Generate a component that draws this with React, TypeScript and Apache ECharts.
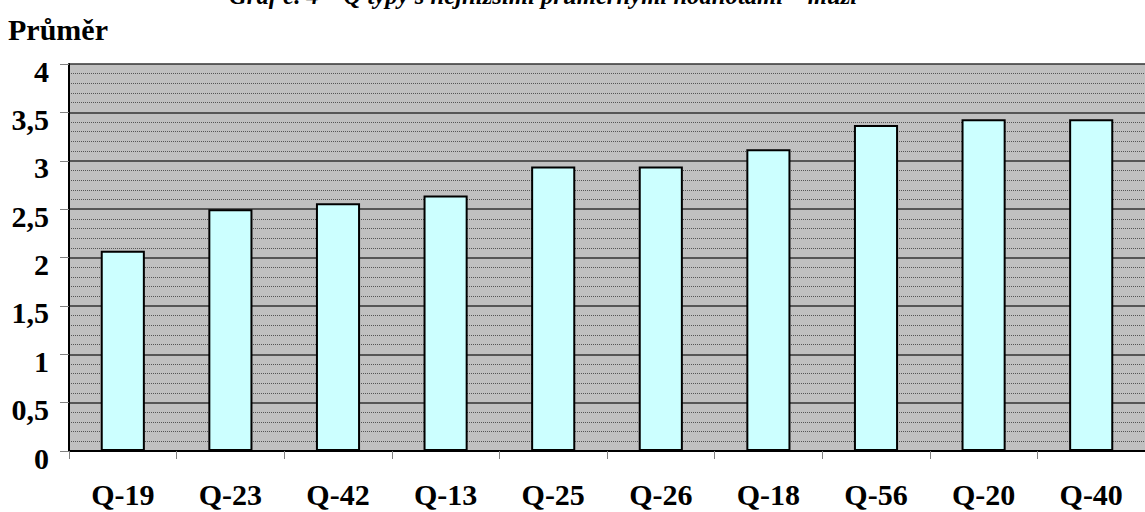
import React, { useEffect, useRef } from "react";
import * as echarts from "echarts";

const categories = ["Q-19", "Q-23", "Q-42", "Q-13", "Q-25", "Q-26", "Q-18", "Q-56", "Q-20", "Q-40"];
const averages = [2.07, 2.5, 2.56, 2.64, 2.94, 2.94, 3.12, 3.37, 3.43, 3.43];
const titleText = "Graf č. 4 – Q typy s nejnižšími průměrnými hodnotami – muži";
const axisName = "Průměr";

const FONT = "Liberation Serif";

export default function App() {
  const ref = useRef<HTMLDivElement>(null);

  useEffect(() => {
    if (!ref.current) return;
    const chart = echarts.init(ref.current, undefined, { renderer: "svg" });
    chart.setOption({
      animation: false,
      backgroundColor: "#ffffff",
      graphic: [
        {
          type: "text",
          left: 229,
          top: -17,
          style: {
            text: titleText,
            fontFamily: FONT,
            fontStyle: "italic",
            fontWeight: "bold",
            fontSize: 24.7,
            fill: "#000",
          },
        },
        {
          type: "text",
          left: 8,
          top: 14,
          style: {
            text: axisName,
            fontFamily: FONT,
            fontWeight: "bold",
            fontSize: 30,
            fill: "#000",
          },
        },
      ],
      grid: {
        left: 69,
        top: 64,
        right: -4,
        bottom: 61,
        show: true,
        backgroundColor: "#C0C0C0",
        borderWidth: 0,
      },
      xAxis: {
        type: "category",
        data: categories,
        boundaryGap: true,
        axisLine: { lineStyle: { color: "#000", width: 2 } },
        axisTick: { show: true, length: 8, lineStyle: { color: "#808080", width: 1 } },
        axisLabel: {
          margin: 28,
          color: "#000",
          fontFamily: FONT,
          fontWeight: "bold",
          fontSize: 30,
        },
      },
      yAxis: {
        type: "value",
        min: 0,
        max: 4,
        interval: 0.5,
        axisLine: { show: true, lineStyle: { color: "#000", width: 2 } },
        axisTick: { show: true, length: 9, lineStyle: { color: "#808080", width: 1 } },
        axisLabel: {
          margin: 20,
          color: "#000",
          fontFamily: FONT,
          fontWeight: "bold",
          fontSize: 30,
          verticalAlign: "top",
          lineHeight: 14,
          formatter: (v: number) => String(v).replace(".", ","),
        },
        splitLine: { show: true, lineStyle: { color: "#333", width: 1.5 } },
        minorTick: { show: false, splitNumber: 5 },
        minorSplitLine: { show: true, lineStyle: { color: "#555", width: 1, type: [1, 1] } },
      },
      series: [
        {
          type: "bar",
          data: averages,
          barWidth: "41%",
          itemStyle: { color: "#CCFFFF", borderColor: "#000", borderWidth: 2 },
        },
      ],
    });
    return () => chart.dispose();
  }, []);

  return (
    <div
      ref={ref}
      style={{ position: "fixed", left: 0, top: 0, width: 1145, height: 512 }}
    />
  );
}
